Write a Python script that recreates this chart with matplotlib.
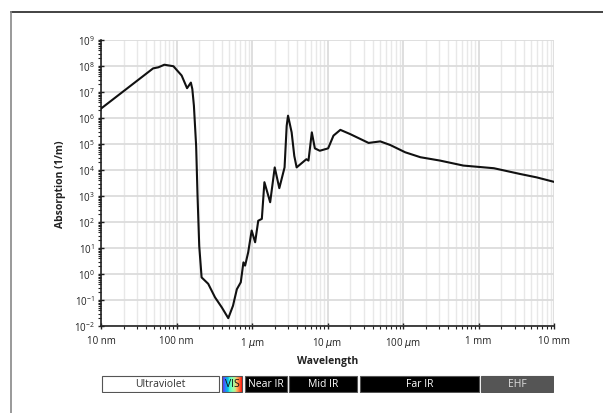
import numpy as np
import matplotlib
matplotlib.use("Agg")
import matplotlib.pyplot as plt
from matplotlib.lines import Line2D
from matplotlib.patches import Rectangle
from matplotlib.ticker import FixedLocator, LogLocator, NullFormatter

plt.rcParams['font.family'] = ['Open Sans', 'DejaVu Sans']
plt.rcParams['mathtext.fontset'] = 'dejavusans'

# wavelength (m) and absorption coefficient (1/m)
wavelength = [1.0e-8, 4.9e-8, 5.75e-8, 6.9e-8, 9.1e-8, 1.17e-7, 1.38e-7, 1.55e-7,
              1.62e-7, 1.70e-7, 1.82e-7, 1.9e-7, 2.0e-7, 2.15e-7, 2.63e-7, 3.24e-7,
              3.98e-7, 4.85e-7, 5.6e-7, 6.3e-7, 7.1e-7, 7.7e-7, 8.1e-7, 8.9e-7,
              9.9e-7, 1.1e-6, 1.21e-6, 1.35e-6, 1.46e-6, 1.74e-6, 2.0e-6, 2.3e-6,
              2.7e-6, 2.88e-6, 3.0e-6, 3.35e-6, 3.63e-6, 3.9e-6, 5.25e-6, 5.6e-6,
              6.2e-6, 6.8e-6, 7.9e-6, 1.02e-5, 1.2e-5, 1.48e-5, 2.0e-5, 3.5e-5,
              5.0e-5, 6.8e-5, 1.07e-4, 1.7e-4, 3.1e-4, 6.3e-4, 1.6e-3, 3.5e-3,
              5.9e-3, 1.0e-2]
absorption = [2.3e6, 8.1e7, 8.9e7, 1.12e8, 9.8e7, 4.3e7, 1.4e7, 2.3e7,
              1.3e7, 3.0e6, 8.5e4, 1.0e3, 12, 0.74, 0.42, 0.126,
              0.052, 0.02, 0.06, 0.26, 0.48, 2.8, 2.1, 6.8,
              47, 16.6, 112, 132, 3400, 575, 1.26e4, 2000,
              1.26e4, 5.0e5, 1.23e6, 2.8e5, 3.5e4, 1.26e4, 2.6e4, 2.3e4,
              2.8e5, 6.8e4, 5.5e4, 6.8e4, 2.1e5, 3.5e5, 2.4e5, 1.1e5,
              1.26e5, 9.1e4, 4.8e4, 3.1e4, 2.3e4, 1.48e4, 1.17e4, 7.1e3,
              5.2e3, 3.5e3]

xtick_vals = [1e-8, 1e-7, 1e-6, 1e-5, 1e-4, 1e-3, 1e-2]
xtick_labels = ['10 nm', '100 nm', r'1 $\mu$m', r'10 $\mu$m', r'100 $\mu$m', '1 mm', '10 mm']

band_names = ['Ultraviolet', 'VIS', 'Near IR', 'Mid IR', 'Far IR', 'EHF']
band_lo = [1e-8, 3.8e-7, 7.8e-7, 3e-6, 2.6e-5, 1.05e-3]
band_hi = [3.8e-7, 7.8e-7, 3e-6, 2.6e-5, 1.05e-3, 1e-2]
band_face = ['white', None, 'black', 'black', 'black', '#555555']
band_text = ['#333333', '#111111', 'white', 'white', 'white', '#dddddd']

W, H = 603, 414
fig = plt.figure(figsize=(W / 100, H / 100), dpi=100)
ax = fig.add_axes([101 / W, 1 - 327 / H, (554 - 101) / W, (327 - 41) / H])

ax.plot(wavelength, absorption, color='#111111', lw=1.5, zorder=3,
        solid_joinstyle='round')
ax.set_xscale('log')
ax.set_yscale('log')
ax.set_xlim(1e-8, 1e-2)
ax.set_ylim(1e-2, 1e9)

ax.xaxis.set_major_locator(FixedLocator(xtick_vals))
ax.set_xticklabels(xtick_labels)
ax.xaxis.set_minor_locator(LogLocator(base=10, subs=np.arange(2, 10), numticks=20))
ax.xaxis.set_minor_formatter(NullFormatter())
ax.yaxis.set_major_locator(LogLocator(base=10, numticks=20))
ax.yaxis.set_minor_locator(LogLocator(base=10, subs=np.arange(2, 10), numticks=20))
ax.yaxis.set_minor_formatter(NullFormatter())

ax.grid(True, which='major', color='#dcdcdc', lw=1.3, zorder=0)
ax.grid(True, which='minor', axis='x', color='#e8e8e8', lw=1.0, zorder=0)
ax.set_axisbelow(True)

for s in ['top', 'right']:
    ax.spines[s].set_visible(False)
for s in ['left', 'bottom']:
    ax.spines[s].set_color('#222222')
    ax.spines[s].set_linewidth(1.2)

ax.tick_params(which='major', direction='inout', length=5, width=1, colors='#222222',
               labelsize=7, labelcolor='#222222')
ax.tick_params(which='minor', direction='out', length=2, width=0.8, colors='#222222')
ax.tick_params(axis='x', pad=4)
ax.tick_params(axis='y', pad=2)

ax.set_xlabel('Wavelength', fontsize=7.5, fontweight='bold', color='#222222', labelpad=4)
ax.set_ylabel('Absorption (1/m)', fontsize=7.5, fontweight='bold', color='#222222', labelpad=6)

# spectrum bands strip
bax = fig.add_axes([101 / W, 1 - 394 / H, (554 - 101) / W, 18 / H])
bax.set_xscale('log')
bax.set_xlim(1e-8, 1e-2)
bax.set_ylim(0, 1)
bax.axis('off')
gap = 10 ** (1.4 / 75.5)
cmap = plt.get_cmap('rainbow')
for name, lo, hi, fc, tc in zip(band_names, band_lo, band_hi, band_face, band_text):
    a, b = lo * gap, hi / gap
    if fc is None:
        edges = np.logspace(np.log10(a), np.log10(b), 25)
        for i in range(len(edges) - 1):
            bax.add_patch(Rectangle((edges[i], 0.05), edges[i + 1] - edges[i], 0.9,
                                    facecolor=cmap(i / (len(edges) - 2)), edgecolor='none'))
        bax.add_patch(Rectangle((a, 0.05), b - a, 0.9, facecolor='none',
                                edgecolor='#555555', lw=0.8))
    else:
        bax.add_patch(Rectangle((a, 0.05), b - a, 0.9, facecolor=fc,
                                edgecolor='#555555', lw=0.8))
    bax.text(np.sqrt(a * b), 0.5, name, ha='center', va='center', fontsize=7.5, color=tc)

# outer frame lines
fig.add_artist(Line2D([11 / W, 1], [1 - 13 / H, 1 - 13 / H], color='#222222', lw=1.2))
fig.add_artist(Line2D([11 / W, 11 / W], [0, 1 - 13 / H], color='#888888', lw=1.2))

fig.savefig('out.png', dpi=100)
